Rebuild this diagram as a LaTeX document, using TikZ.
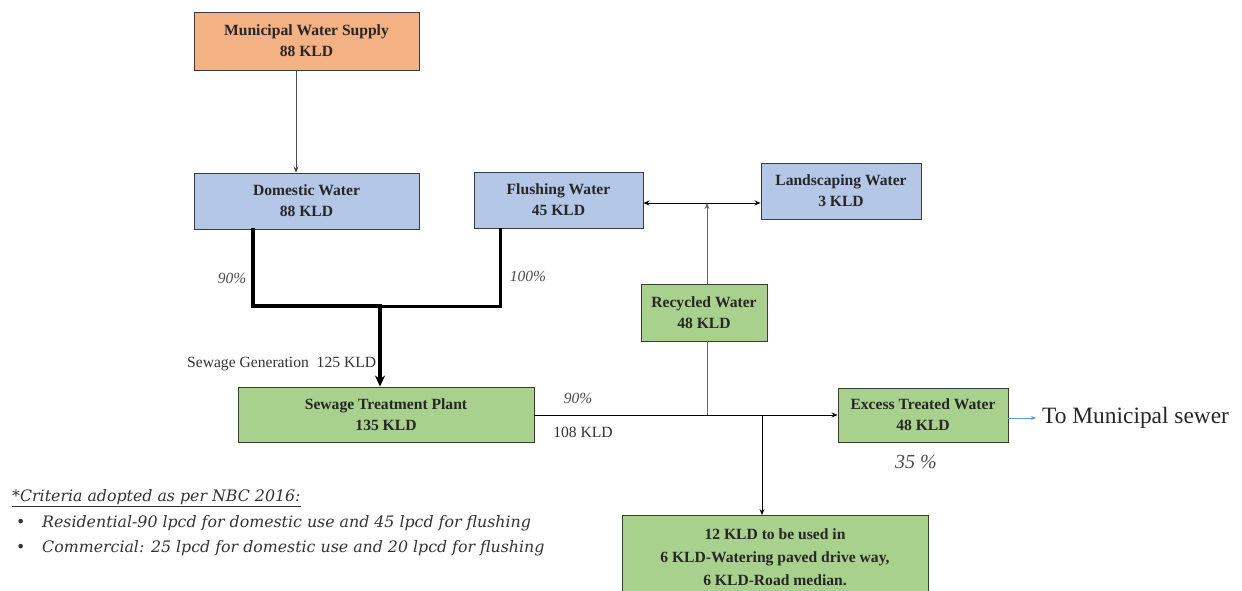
\documentclass[tikz,border=0pt]{standalone}
\usepackage{fontspec}
\setmainfont{Liberation Serif}
\newfontfamily\notefont{DejaVu Serif}
\usetikzlibrary{arrows.meta,calc}
\definecolor{orangefill}{HTML}{F4B183}
\definecolor{bluefill}{HTML}{B4C7E7}
\definecolor{greenfill}{HTML}{A9D18E}
\definecolor{boxline}{HTML}{3A3A3A}
\definecolor{txt}{HTML}{262626}
\definecolor{arrblue}{HTML}{5B9BD5}
\begin{document}
\begin{tikzpicture}[x=1pt,y=-1pt,
  flowbox/.style={draw=boxline,line width=0.9pt,inner sep=2pt,align=center,
    font=\fontsize{15.6}{21}\selectfont\bfseries,text=txt},
  orangebox/.style={flowbox,fill=orangefill},
  bluebox/.style={flowbox,fill=bluefill},
  greenbox/.style={flowbox,fill=greenfill},
  thinarrow/.style={draw=black!70,line width=0.8pt,-{Stealth[length=6pt,width=5pt]}},
  thickline/.style={draw=black,line width=3.8pt},
  pct/.style={font=\fontsize{15.5}{18}\selectfont\itshape,text=black!70},
  lbl/.style={font=\fontsize{15.6}{18}\selectfont,text=black!80},
  note/.style={font=\notefont\fontsize{15.8}{18}\selectfont\itshape,text=black!80,anchor=west,inner sep=0pt}
]
\useasboundingbox[fill=white] (0,0) rectangle (1242,591);

% boxes
\node[orangebox,minimum width=225pt,minimum height=58pt] (mws) at (306.5,41) {Municipal Water Supply\\88 KLD};
\node[bluebox,minimum width=225pt,minimum height=56pt] (dom) at (306.5,201) {Domestic Water\\88 KLD};
\node[bluebox,minimum width=169pt,minimum height=56pt] (flush) at (558.5,200) {Flushing Water\\45 KLD};
\node[bluebox,minimum width=160pt,minimum height=56pt] (land) at (841,191) {Landscaping Water\\3 KLD};
\node[greenbox,minimum width=126pt,minimum height=57pt] (rec) at (704,312.5) {Recycled Water\\48 KLD};
\node[greenbox,minimum width=296pt,minimum height=55pt] (stp) at (386,414.5) {Sewage Treatment Plant\\135 KLD};
\node[greenbox,minimum width=170pt,minimum height=54pt] (exc) at (923,415) {Excess Treated Water\\48 KLD};
\node[greenbox,minimum width=306pt,minimum height=84pt,anchor=north,
  font=\fontsize{15.6}{23}\selectfont\bfseries] (use) at (775,515)
  {12 KLD to be used in\\6 KLD-Watering paved drive way,\\6 KLD-Road median.};

% municipal -> domestic
\draw[thinarrow] ([xshift=-10.5pt]mws.south) -- ([xshift=-10.5pt]dom.north);

% sewage collection
\coordinate (jl) at (253,306);
\coordinate (jm) at (380,306);
\coordinate (jr) at (500,306);
\draw[thickline,line cap=rect] (dom.south -| jl) -- (jl) -- (jm);
\draw[draw=black,line width=3pt] (jm) -- (jr) -- (flush.south -| jr);
\draw[draw=black,line width=3.4pt,-{Stealth[length=11pt,width=10pt]}] (jm) -- (stp.north -| jm);

% treated water
\coordinate (jrec) at (707,415);
\coordinate (juse) at (762,415);
\coordinate (dup) at (707,203);
\draw[draw=black,line width=0.9pt,-{Stealth[length=6pt,width=5pt]}] (stp.east |- jrec) -- (exc.west |- jrec);
\draw[draw=black!60,line width=0.9pt] (jrec) -- (rec.south -| jrec);
\draw[draw=black!60,line width=0.9pt,-{Stealth[length=6pt,width=5pt]}] (rec.north -| jrec) -- (dup);
\draw[draw=black,line width=0.9pt,{Stealth[length=6pt,width=5pt]}-{Stealth[length=6pt,width=5pt]}] (flush.east |- dup) -- (land.west |- dup);
\draw[draw=black,line width=0.9pt,-{Stealth[length=6pt,width=5pt]}] (juse) -- (use.north -| juse);

% to sewer
\coordinate (sw) at (1036,418);
\draw[draw=arrblue,line width=0.9pt,-{Stealth[length=5pt,width=4pt]}] (exc.east |- sw) -- (sw);
\node[anchor=west,inner sep=0pt,font=\fontsize{23.4}{26}\selectfont,text=black!85] (tms) at (1042,418) {To Municipal sewer};

% labels
\node[pct] (p90a) at (232,278) {90\%};
\node[pct] (p100) at (528,276) {100\%};
\node[lbl,anchor=west,inner sep=0pt] (sg) at (187,364) {Sewage Generation\ \ 125 KLD};
\node[pct] (p90b) at (578,398) {90\%};
\node[lbl] (k108) at (583,432) {108 KLD};
\node[pct,font=\fontsize{20}{22}\selectfont\itshape] (p35) at (916,462) {35 \%};

% notes
\node[note] (n0) at (12,498) {\underline{*Criteria adopted as per NBC 2016:}};
\node[note] (b1) at (16,523) {\textbullet};
\node[note] (n1) at (42,523) {Residential-90 lpcd for domestic use and 45 lpcd for flushing};
\node[note] (b2) at (16,548) {\textbullet};
\node[note] (n2) at (42,548) {Commercial: 25 lpcd for domestic use and 20 lpcd for flushing};
\end{tikzpicture}
\end{document}
